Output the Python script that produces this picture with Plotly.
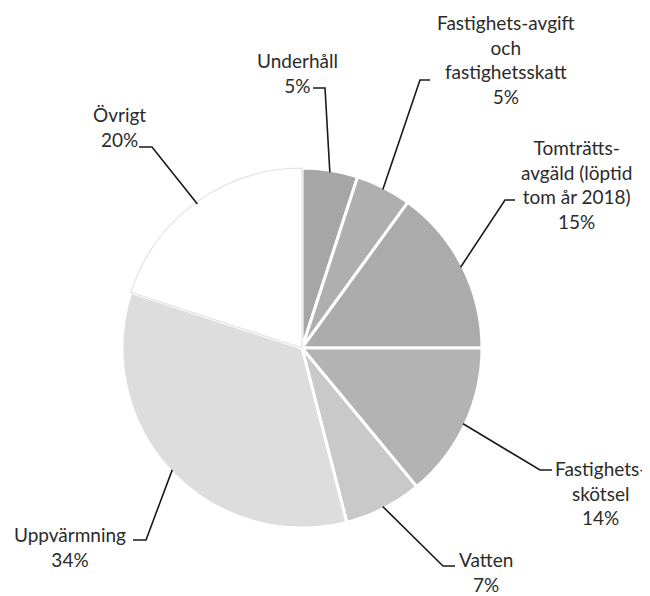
import math
import plotly.graph_objects as go

# ---- data ----
categories = ["Underhåll", "Fastighets-avgift<br>och<br>fastighetsskatt",
              "Tomträtts-<br>avgäld (löptid<br>tom år 2018)", "Fastighets-<br>skötsel",
              "Vatten", "Uppvärmning", "Övrigt"]
values = [5, 5, 15, 14, 7, 34, 20]
colors = ["#a6a6a6", "#afafaf", "#ababab", "#b3b3b3", "#c9c9c9", "#dddddd", "#ffffff"]

# ---- layout constants (pixels in the 650x596 window) ----
OFF = 8                     # browser body margin
W, H = 650 - OFF, 596 - OFF
CX, CY, R = 302, 348, 180
# label text centre (x, y), elbow (x, y), line end x
label_pos = [
    (297, 73, 325, 88, 313),
    (506, 60, 420, 80, 430),
    (576, 184, 505, 200, 515),
    (600, 493, 540, 470, 552),
    (486, 572, 443, 566, 455),
    (70, 547, 146, 540, 133),
    (119, 127, 152, 147, 139),
]

def px(x):
    return (x - OFF) / W

def py(y):
    return 1 - (y - OFF) / H

line_colors = ["#ffffff"] * 6 + ["#e2e2e2"]
line_widths = [3] * 6 + [1.2]

fig = go.Figure(go.Pie(
    labels=categories, values=values, sort=False, direction="clockwise", rotation=0,
    marker=dict(colors=colors, line=dict(color=line_colors, width=line_widths)),
    textinfo="none", hoverinfo="label+percent", showlegend=False,
    domain=dict(x=[px(CX - R), px(CX + R)], y=[py(CY + R), py(CY - R)]),
))

total = sum(values)
cum = 0
shapes = []
annotations = []
for cat, v, (tx, ty, ex, ey, lx) in zip(categories, values, label_pos):
    mid = (cum + v / 2) / total * 2 * math.pi
    cum += v
    rx = CX + (R - 2) * math.sin(mid)
    ry = CY - (R - 2) * math.cos(mid)
    shapes.append(dict(
        type="path", xref="paper", yref="paper",
        path=f"M {px(rx)} {py(ry)} L {px(ex)} {py(ey)} L {px(lx)} {py(ey)}",
        line=dict(color="#1a1a1a", width=1.6),
    ))
    annotations.append(dict(
        x=px(tx), y=py(ty), xref="paper", yref="paper", showarrow=False,
        text=f"{cat}<br>{round(v / total * 100)}%", align="center",
        xanchor="center", yanchor="middle",
        font=dict(family="Lato, Carlito, sans-serif", size=19, color="#2b2b2b"),
    ))

fig.update_layout(
    width=W, height=H, margin=dict(l=0, r=0, t=0, b=0),
    paper_bgcolor="white", plot_bgcolor="white",
    shapes=shapes, annotations=annotations,
)

fig.write_html("out.html")
